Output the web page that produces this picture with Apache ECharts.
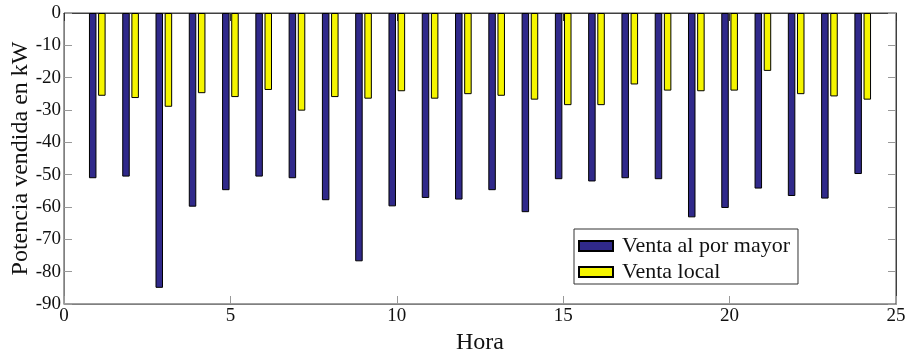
<!DOCTYPE html>
<html>
<head>
<meta charset="utf-8">
<script src="https://cdn.jsdelivr.net/npm/echarts@6/dist/echarts.min.js"></script>
<style>html,body{margin:0;padding:0;background:#fff}#c{width:909px;height:356px}</style>
</head>
<body>
<div id="c"></div>
<script>
const hours = [1,2,3,4,5,6,7,8,9,10,11,12,13,14,15,16,17,18,19,20,21,22,23,24];
const ventaMayor = [-51.1,-50.6,-85.0,-59.9,-54.8,-50.6,-51.1,-57.9,-76.8,-59.8,-57.2,-57.7,-54.8,-61.6,-51.4,-52.1,-51.1,-51.4,-63.2,-60.3,-54.3,-56.6,-57.4,-49.8];
const ventaLocal = [-25.6,-26.3,-29.0,-24.8,-26.0,-23.8,-30.2,-26.0,-26.5,-24.2,-26.5,-25.1,-25.6,-26.8,-28.5,-28.5,-22.1,-24.0,-24.2,-24.0,-17.9,-25.1,-25.8,-26.8];
const seriesNames = ['Venta al por mayor','Venta local'];
const xTitle = 'Hora';
const yTitle = 'Potencia vendida en kW';

const font = 'Liberation Serif';
const chart = echarts.init(document.getElementById('c'), null, {renderer:'canvas'});
const tickStyle = {show:true, inside:true, length:8, lineStyle:{color:'#999', width:1}};
chart.setOption({
  animation:false,
  backgroundColor:'#fff',
  grid:{left:64, right:13, top:13, bottom:52, containLabel:false, outerBoundsMode:'none',
        show:true, borderColor:'#404040', borderWidth:1, backgroundColor:'transparent'},
  legend:{
    orient:'vertical', left:574, top:229,
    data:seriesNames,
    itemWidth:34, itemHeight:10, itemGap:4,
    padding:[6,8,1,4],
    borderColor:'#333', borderWidth:1, backgroundColor:'#fff',
    icon:'rect',
    textStyle:{fontFamily:font, fontSize:22, color:'#111', lineHeight:22, padding:[0,0,0,4]}
  },
  xAxis:[{
    type:'value', min:0, max:25, interval:5,
    name:xTitle, nameLocation:'middle', nameGap:27, nameMoveOverlap:false,
    nameTextStyle:{fontFamily:font, fontSize:24, color:'#111'},
    axisLine:{show:true, onZero:false, lineStyle:{color:'#808080'}},
    axisTick:tickStyle,
    axisLabel:{fontFamily:font, fontSize:19, color:'#111', margin:3},
    splitLine:{show:false}
  },{
    type:'value', min:0, max:25, interval:5, position:'top',
    axisLine:{show:true, onZero:false, lineStyle:{color:'#404040'}},
    axisTick:{show:true, inside:true, length:8, lineStyle:{color:'#333'}},
    axisLabel:{show:false}, splitLine:{show:false}
  }],
  yAxis:[{
    type:'value', min:-90, max:0, interval:10,
    name:yTitle, nameLocation:'middle', nameGap:31, nameRotate:90, nameMoveOverlap:false,
    nameTextStyle:{fontFamily:font, fontSize:24, color:'#111'},
    axisLine:{show:true, onZero:false, lineStyle:{color:'#808080'}},
    axisTick:tickStyle,
    axisLabel:{fontFamily:font, fontSize:19, color:'#111', margin:3},
    splitLine:{show:false}
  },{
    type:'value', min:-90, max:0, interval:10, position:'right',
    axisLine:{show:true, onZero:false, lineStyle:{color:'#404040'}},
    axisTick:tickStyle,
    axisLabel:{show:false}, splitLine:{show:false}
  }],
  series:[{
    name:seriesNames[0], type:'bar', xAxisIndex:0, yAxisIndex:0,
    data:hours.map((h,i)=>[h, ventaMayor[i]]),
    barWidth:7.5, barGap:'22%',
    itemStyle:{color:'#30298a', borderColor:'#000', borderWidth:1}
  },{
    name:seriesNames[1], type:'bar', xAxisIndex:0, yAxisIndex:0,
    data:hours.map((h,i)=>[h, ventaLocal[i]]),
    barWidth:7.5, barGap:'22%',
    itemStyle:{color:'#f5f500', borderColor:'#000', borderWidth:1}
  }]
});
</script>
</body>
</html>
